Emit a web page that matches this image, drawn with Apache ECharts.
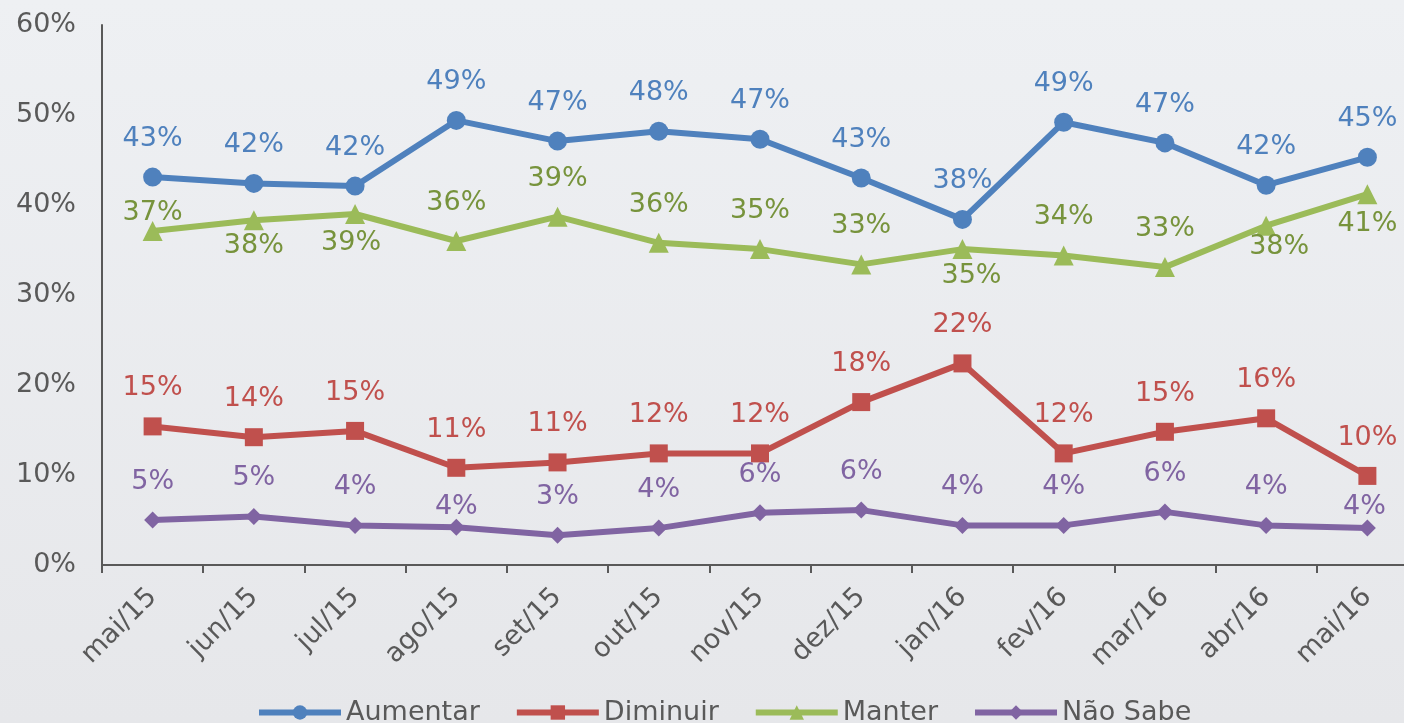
<!DOCTYPE html>
<html>
<head>
<meta charset="utf-8">
<script src="https://cdn.jsdelivr.net/npm/echarts@6/dist/echarts.min.js"></script>
<style>
  html, body { margin: 0; padding: 0; }
  #chart { width: 1404px; height: 723px; }
</style>
</head>
<body>
<div id="chart"></div>
<script>
// meses
const months = ["mai/15", "jun/15", "jul/15", "ago/15", "set/15", "out/15", "nov/15",
  "dez/15", "jan/16", "fev/16", "mar/16", "abr/16", "mai/16"];

// % de respostas por mês
const aumentar = [43.1, 42.4, 42.1, 49.4, 47.1, 48.2, 47.3, 43.0, 38.4, 49.2, 46.9, 42.2, 45.3];
const diminuir = [15.4, 14.2, 14.9, 10.8, 11.4, 12.4, 12.4, 18.1, 22.4, 12.4, 14.8, 16.3, 9.9];
const manter   = [37.1, 38.3, 39.0, 36.0, 38.7, 35.8, 35.1, 33.4, 35.1, 34.4, 33.1, 37.7, 41.2];
const naoSabe  = [5.0, 5.4, 4.4, 4.2, 3.3, 4.1, 5.8, 6.1, 4.4, 4.4, 5.9, 4.4, 4.1];

const yTicks = [0, 10, 20, 30, 40, 50, 60];

// rótulos deslocados à mão (índice -> [dx, dy]), o resto fica acima do ponto
const labelShift = {
  "Manter": { 0: [0, -18], 1: [0, 26], 2: [-4, 29], 8: [9, 27], 11: [13, 21], 12: [0, 30] },
  "Não Sabe": { 3: [0, -20], 12: [-3, -21] },
};

const FONT = "DejaVu Sans";
const FS = 27;
const grey = "#595959";

function makeSeries(name, values, color, labelColor, symbol, size) {
  const shifts = labelShift[name] || {};
  return {
    name,
    type: "line",
    data: values.map((v, i) => ({
      value: v,
      label: { offset: shifts[i] || [0, -38] },
    })),
    symbol,
    symbolSize: size,
    lineStyle: { width: 6, color },
    itemStyle: { color },
    label: {
      show: true,
      position: "inside",
      color: labelColor,
      fontFamily: FONT,
      fontSize: FS,
      formatter: (p) => Math.round(p.value) + "%",
    },
    emphasis: { disabled: true },
    z: 3,
  };
}

const chart = echarts.init(document.getElementById("chart"));
chart.setOption({
  animation: false,
  backgroundColor: {
    type: "linear", x: 0, y: 0, x2: 0, y2: 1,
    colorStops: [{ offset: 0, color: "#eef0f3" }, { offset: 1, color: "#e6e7ea" }],
  },
  textStyle: { fontFamily: FONT },
  // the plot runs a little past the right edge, as in the original
  grid: { left: 102, width: 1316, top: 25, bottom: 158, outerBoundsMode: "none" },
  legend: {
    left: 251,
    top: 694,
    itemWidth: 82,
    itemHeight: 18,
    itemGap: 34,
    lineStyle: { width: 6 },
    textStyle: { color: grey, fontSize: FS, fontFamily: FONT },
    data: ["Aumentar", "Diminuir", "Manter", "Não Sabe"],
  },
  xAxis: {
    type: "category",
    data: months,
    boundaryGap: true,
    axisLine: { lineStyle: { color: grey, width: 2 } },
    axisTick: { show: true, length: 8, lineStyle: { color: grey, width: 2 } },
    axisLabel: { rotate: 45, margin: 28, color: grey, fontSize: FS, fontFamily: FONT },
  },
  yAxis: {
    type: "value",
    min: yTicks[0],
    max: yTicks[yTicks.length - 1],
    interval: 10,
    axisLine: { show: true, lineStyle: { color: grey, width: 2 } },
    axisTick: { show: false },
    splitLine: { show: false },
    axisLabel: { margin: 26, color: grey, fontSize: FS, fontFamily: FONT, formatter: "{value}%" },
  },
  series: [
    makeSeries("Aumentar", aumentar, "#4f81bd", "#4f81bd", "circle", 19),
    makeSeries("Diminuir", diminuir, "#c0504d", "#c0504d", "rect", 18),
    makeSeries("Manter", manter, "#9bbb59", "#77933c", "triangle", 20),
    makeSeries("Não Sabe", naoSabe, "#8064a2", "#8064a2", "diamond", 17),
  ],
});
</script>
</body>
</html>
